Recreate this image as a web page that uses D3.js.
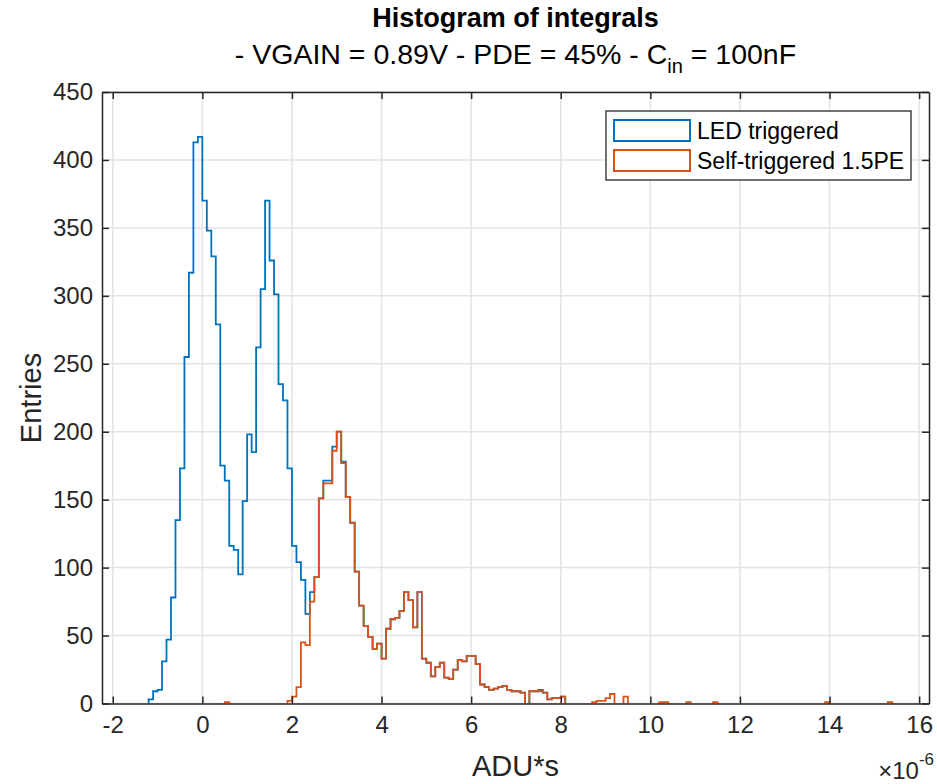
<!DOCTYPE html>
<html>
<head>
<meta charset="utf-8">
<script src="https://cdn.jsdelivr.net/npm/d3@7"></script>
<style>
  body { margin: 0; background: #fff; }
  svg { display: block; font-family: "Liberation Sans", Arial, sans-serif; }
</style>
</head>
<body>
<svg id="canvas" width="937" height="784"></svg>
<script>
// histogram bins (units of 1e-6 ADU*s)
const binWidth = 0.1

const ledStart = -1.2
const ledCounts = [
  3, 9, 10, 31, 47, 78, 135, 173, 255, 317, 413, 417,
  370, 348, 329, 279, 175, 164, 116, 113, 95, 149,
  198, 185, 262, 305, 370, 326, 301, 235, 223, 173,
  116, 104, 91, 66, 82, 93, 151, 164, 164, 189,
  200, 178, 152, 133, 97, 72, 57, 49, 40, 44,
  33, 55, 62, 63, 68, 82, 76, 56, 82, 33,
  30, 20, 27, 30, 19, 18, 25, 32, 31, 35,
  35, 29, 14, 12, 10, 11, 12, 13, 10, 9,
  9, 8, 0, 9, 9, 10, 8, 3, 4, 4,
  5
]

const selfStart = 0.5
const selfCounts = [
  1, 0, 0, 0, 0, 0, 0, 0, 0, 0, 0, 0, 0, 0,
  2, 5, 12, 45, 43, 75, 93, 151, 162, 162, 186,
  200, 177, 152, 133, 97, 72, 57, 49, 40, 44,
  33, 55, 62, 63, 68, 82, 76, 56, 82, 33,
  30, 20, 27, 30, 19, 18, 25, 32, 31, 35,
  35, 29, 14, 12, 10, 11, 12, 13, 10, 9,
  9, 8, 0, 9, 9, 9, 8, 3, 4, 4,
  5, 0, 0, 0, 0, 0, 0, 1, 2, 2,
  4, 7, 0, 0, 5, 0, 0, 0, 0, 0,
  0, 0, 1, 1, 0, 0, 0, 0, 1, 0,
  0, 0, 0, 0, 1, 0, 0, 0, 0, 0,
  0, 0, 0, 0, 0, 0, 0, 0, 0, 0,
  0, 0, 0, 0, 0, 0, 0, 0, 0, 1,
  0, 0, 0, 0, 0, 0, 0, 0, 0, 0,
  0, 0, 0, 1
]

const seriesNames = ['LED triggered', 'Self-triggered 1.5PE']
const seriesColors = ['#0072BD', '#D95319']

const xTickValues = [-2, 0, 2, 4, 6, 8, 10, 12, 14, 16]
const yTickValues = [0, 50, 100, 150, 200, 250, 300, 350, 400, 450]
const xDomain = [-2.24, 16.22]
const yDomain = [0, 450]

let svg = d3.select('#canvas')

let plotLeft = 102, plotRight = 929, plotTop = 92, plotBottom = 703.5

let xScale = d3.scaleLinear().domain(xDomain).range([plotLeft, plotRight])
let yScale = d3.scaleLinear().domain(yDomain).range([plotBottom, plotTop])

svg.append('rect').attr('width', 937).attr('height', 784).attr('fill', '#fff')

// grid
let grid = svg.append('g')
grid.selectAll('.gx')
    .data(xTickValues)
    .enter()
    .append('line')
    .attr('x1', (d) => xScale(d)).attr('x2', (d) => xScale(d))
    .attr('y1', plotTop).attr('y2', plotBottom)
    .attr('stroke', '#e3e3e3').attr('stroke-width', 1.5)
grid.selectAll('.gy')
    .data(yTickValues)
    .enter()
    .append('line')
    .attr('y1', (d) => yScale(d)).attr('y2', (d) => yScale(d))
    .attr('x1', plotLeft).attr('x2', plotRight)
    .attr('stroke', '#e3e3e3').attr('stroke-width', 1.5)

svg.append('clipPath').attr('id', 'clip')
   .append('rect').attr('x', plotLeft).attr('y', plotTop - 2)
   .attr('width', plotRight - plotLeft).attr('height', plotBottom - plotTop + 2)

// stair outline, split at empty bins so nothing runs along the baseline
let stairRuns = (start, counts) => {
    let runs = []
    let cur = null
    counts.forEach((c, i) => {
        let x0 = start + i * binWidth
        let x1 = start + (i + 1) * binWidth
        if (c > 0) {
            if (!cur) {
                cur = [[x0, 0]]
                runs.push(cur)
            }
            cur.push([x0, c])
            cur.push([x1, c])
        } else if (cur) {
            cur.push([x0, 0])
            cur = null
        }
    })
    if (cur) cur.push([start + counts.length * binWidth, 0])
    return runs
}

let line = d3.line()
    .x((p) => xScale(p[0]))
    .y((p) => yScale(p[1]))

let hist = svg.append('g').attr('clip-path', 'url(#clip)')
let drawHist = (start, counts, color) => {
    hist.append('g')
        .selectAll('path')
        .data(stairRuns(start, counts))
        .enter()
        .append('path')
        .attr('d', (run) => line(run))
        .attr('fill', 'none')
        .attr('stroke', color)
        .attr('stroke-width', 1.8)
}
drawHist(ledStart, ledCounts, seriesColors[0])
drawHist(selfStart, selfCounts, seriesColors[1])

// axes (box with inward ticks)
let axisColor = '#262626'
let tickLen = 7
let plainNum = (d) => String(d)

let xAxisBottom = d3.axisBottom(xScale).tickValues(xTickValues).tickSize(-tickLen).tickSizeOuter(0).tickPadding(12).tickFormat(plainNum)
let xAxisTop = d3.axisTop(xScale).tickValues(xTickValues).tickSize(-tickLen).tickSizeOuter(0).tickFormat('')
let yAxisLeft = d3.axisLeft(yScale).tickValues(yTickValues).tickSize(-tickLen).tickSizeOuter(0).tickPadding(9).tickFormat(plainNum)
let yAxisRight = d3.axisRight(yScale).tickValues(yTickValues).tickSize(-tickLen).tickSizeOuter(0).tickFormat('')

let styleAxis = (g) => {
    g.select('.domain').attr('stroke', axisColor).attr('stroke-width', 1.5)
    g.selectAll('.tick line').attr('stroke', axisColor).attr('stroke-width', 1.5)
    g.selectAll('.tick text').attr('fill', axisColor).style('font-size', '24px')
        .style('font-family', '"Liberation Sans", Arial, sans-serif')
}

svg.append('g').attr('transform', 'translate(0,' + plotBottom + ')').call(xAxisBottom).call(styleAxis)
svg.append('g').attr('transform', 'translate(0,' + plotTop + ')').call(xAxisTop).call(styleAxis)
svg.append('g').attr('transform', 'translate(' + plotLeft + ',0)').call(yAxisLeft).call(styleAxis)
svg.append('g').attr('transform', 'translate(' + plotRight + ',0)').call(yAxisRight).call(styleAxis)

// titles
svg.append('text')
    .attr('x', (plotLeft + plotRight) / 2).attr('y', 27)
    .attr('text-anchor', 'middle')
    .attr('fill', '#000')
    .style('font-size', '27px').style('font-weight', 'bold')
    .text('Histogram of integrals')

let sub = svg.append('text')
    .attr('x', (plotLeft + plotRight) / 2).attr('y', 64)
    .attr('text-anchor', 'middle')
    .attr('fill', '#000')
    .style('font-size', '28.5px')
sub.append('tspan').text('- VGAIN = 0.89V - PDE = 45% - C')
sub.append('tspan').attr('dy', 9).style('font-size', '20px').text('in')
sub.append('tspan').attr('dy', -9).text(' = 100nF')

// axis labels
svg.append('text')
    .attr('x', (plotLeft + plotRight) / 2).attr('y', 776)
    .attr('text-anchor', 'middle')
    .attr('fill', axisColor)
    .style('font-size', '29px')
    .text('ADU*s')

svg.append('text')
    .attr('transform', 'translate(41,398) rotate(-90)')
    .attr('text-anchor', 'middle')
    .attr('fill', axisColor)
    .style('font-size', '29px')
    .text('Entries')

let expo = svg.append('text')
    .attr('x', 934).attr('y', 779)
    .attr('text-anchor', 'end')
    .attr('fill', axisColor)
    .style('font-size', '24px')
expo.append('tspan').text('\u00d710')
expo.append('tspan').attr('dy', -14).style('font-size', '17px').text('-6')

// legend
let legend = svg.append('g')
legend.append('rect')
    .attr('x', 606).attr('y', 111).attr('width', 305).attr('height', 69)
    .attr('fill', '#fff').attr('stroke', axisColor).attr('stroke-width', 1.3)

let items = legend.selectAll('.item')
    .data(seriesNames)
    .enter()
    .append('g')
    .attr('transform', (d, i) => 'translate(0,' + (i * 30) + ')')
items.append('rect')
    .attr('x', 614).attr('y', 120).attr('width', 76).attr('height', 21)
    .attr('fill', '#fff')
    .attr('stroke', (d, i) => seriesColors[i])
    .attr('stroke-width', 2)
items.append('text')
    .attr('x', 697).attr('y', 139)
    .attr('fill', '#000')
    .style('font-size', '23px')
    .text((d) => d)
</script>
</body>
</html>
